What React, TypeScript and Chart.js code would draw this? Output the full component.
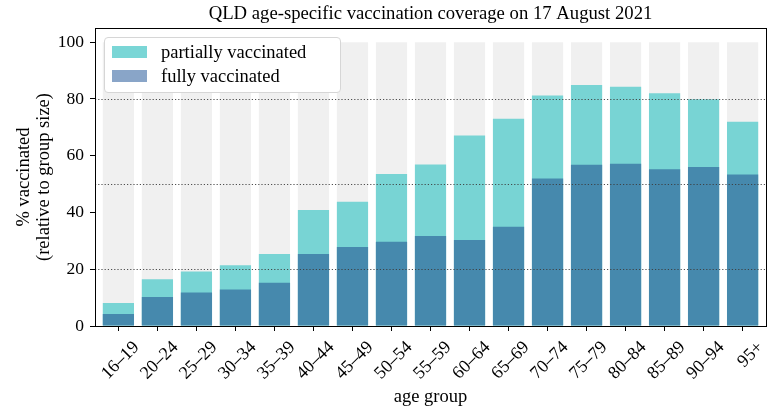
import React, { useEffect, useRef } from 'react';
import { Chart, registerables } from 'chart.js';

Chart.register(...registerables);

const ageGroups = ['16–19', '20–24', '25–29', '30–34', '35–39', '40–44', '45–49', '50–54', '55–59', '60–64', '65–69', '70–74', '75–79', '80–84', '85–89', '90–94', '95+'];
const partiallyVaccinated = [8.1, 16.5, 19.2, 21.4, 25.4, 40.9, 43.8, 53.6, 56.9, 67.1, 73.0, 81.2, 84.9, 84.3, 82.0, 79.9, 72.0];
const fullyVaccinated = [4.2, 10.2, 11.8, 12.9, 15.2, 25.4, 27.8, 29.7, 31.7, 30.3, 35.0, 52.0, 56.8, 57.2, 55.2, 56.0, 53.4];
const groupTotal = [100, 100, 100, 100, 100, 100, 100, 100, 100, 100, 100, 100, 100, 100, 100, 100, 100];
const yTicks = [0, 20, 40, 60, 80, 100];
const referenceLines = [20, 50, 80];

const FONT = "'Liberation Serif', 'DejaVu Serif', serif";
const COLOR_FULL = '#4689ad';
const COLOR_PARTIAL = '#78d4d4';
const COLOR_BG = '#f0f0f0';
const LEGEND_FULL = '#89a5c8';
const LEGEND_PARTIAL = '#7ad6d6';

const toXY = (arr: number[]) => arr.map((v, i) => ({ x: i, y: v }));

const framePlugin = {
  id: 'frameAndRefs',
  afterDatasetsDraw(chart: any) {
    const { ctx, chartArea, scales } = chart;
    ctx.save();
    ctx.strokeStyle = 'rgba(60,60,60,0.9)';
    ctx.lineWidth = 1.2;
    ctx.setLineDash([1.2, 2]);
    referenceLines.forEach((v) => {
      const y = Math.round(scales.y.getPixelForValue(v)) + 0.5;
      ctx.beginPath();
      ctx.moveTo(chartArea.left, y);
      ctx.lineTo(chartArea.right, y);
      ctx.stroke();
    });
    ctx.restore();
  },
  afterDraw(chart: any) {
    const { ctx, chartArea } = chart;
    ctx.save();
    ctx.strokeStyle = '#000';
    ctx.lineWidth = 1;
    ctx.strokeRect(
      Math.round(chartArea.left) + 0.5,
      Math.round(chartArea.top) + 0.5,
      Math.round(chartArea.right - chartArea.left),
      Math.round(chartArea.bottom - chartArea.top)
    );
    ctx.restore();
  },
};

export default function App() {
  const canvasRef = useRef<HTMLCanvasElement | null>(null);

  useEffect(() => {
    document.body.style.margin = '0';
    const canvas = canvasRef.current;
    if (!canvas) return;
    const yTickFont = { family: FONT, size: 17.5, weight: 'normal' as const };
    const xTickFont = { family: FONT, size: 18, weight: 'normal' as const };
    const labelFont = { family: FONT, size: 18.5, weight: 'normal' as const, lineHeight: 1.1 };
    const chart = new Chart(canvas, {
      type: 'bar',
      data: {
        datasets: [
          { label: 'fully vaccinated', data: toXY(fullyVaccinated), backgroundColor: COLOR_FULL, order: 0 },
          { label: 'partially vaccinated', data: toXY(partiallyVaccinated), backgroundColor: COLOR_PARTIAL, order: 1 },
          { label: 'group size', data: toXY(groupTotal), backgroundColor: COLOR_BG, order: 2 },
        ],
      },
      options: {
        animation: false,
        responsive: false,
        devicePixelRatio: 1,
        datasets: { bar: { grouped: false, categoryPercentage: 0.8, barPercentage: 1, borderWidth: 0 } },
        layout: { padding: { left: 0, right: 3, top: 0, bottom: 0 } },
        plugins: {
          legend: { display: false },
          tooltip: { enabled: false },
          title: {
            display: true,
            text: 'QLD age-specific vaccination coverage on 17 August 2021',
            fullSize: false,
            color: '#000',
            font: { family: FONT, size: 18.7, weight: 'normal', lineHeight: 1.2 },
            padding: { top: 3, bottom: 2.6 },
          },
        },
        scales: {
          x: {
            type: 'linear',
            min: -0.6,
            max: 16.6,
            offset: false,
            afterBuildTicks: (s: any) => {
              s.ticks = ageGroups.map((_, i) => ({ value: i }));
            },
            afterFit: (s: any) => {
              s.height = 85;
            },
            grid: { display: true, drawOnChartArea: false, drawTicks: true, tickLength: 5, color: '#000', offset: false },
            border: { display: false },
            ticks: {
              autoSkip: false,
              minRotation: 45,
              maxRotation: 45,
              labelOffset: 18,
              padding: 6,
              color: '#000',
              font: xTickFont,
              callback: (v: any) => ageGroups[Math.round(Number(v))] ?? '',
            },
            title: { display: true, text: 'age group', color: '#000', font: labelFont, padding: { top: 4, bottom: 4 } },
          },
          y: {
            min: 0,
            max: 105,
            afterBuildTicks: (s: any) => {
              s.ticks = yTicks.map((v) => ({ value: v }));
            },
            afterFit: (s: any) => {
              s.width = 95;
            },
            grid: { display: true, drawOnChartArea: false, drawTicks: true, tickLength: 5, color: '#000' },
            border: { display: false },
            ticks: { color: '#000', font: yTickFont, padding: 6 },
            title: {
              display: true,
              text: ['% vaccinated', '(relative to group size)'],
              color: '#000',
              font: labelFont,
              padding: { top: 14, bottom: 0 },
            },
          },
        },
      },
      plugins: [framePlugin],
    } as any);
    return () => chart.destroy();
  }, []);

  const swatch = (color: string) => ({
    position: 'absolute' as const,
    left: 7,
    width: 35,
    height: 12,
    background: color,
  });
  const text = {
    position: 'absolute' as const,
    left: 56,
    fontFamily: FONT,
    fontSize: 18.5,
    lineHeight: '20px',
    color: '#000',
    whiteSpace: 'nowrap' as const,
  };

  return (
    <div style={{ position: 'relative', width: 769, height: 411 }}>
      <canvas ref={canvasRef} width={769} height={411} style={{ display: 'block' }} />
      <div
        style={{
          position: 'absolute',
          left: 104,
          top: 37,
          width: 237,
          height: 56,
          boxSizing: 'border-box',
          border: '1px solid #d6d6d6',
          borderRadius: 4,
          background: 'rgba(255,255,255,0.95)',
        }}
      >
        <div style={{ ...swatch(LEGEND_PARTIAL), top: 8 }} />
        <div style={{ ...text, top: 4 }}>partially vaccinated</div>
        <div style={{ ...swatch(LEGEND_FULL), top: 32 }} />
        <div style={{ ...text, top: 28 }}>fully vaccinated</div>
      </div>
    </div>
  );
}
